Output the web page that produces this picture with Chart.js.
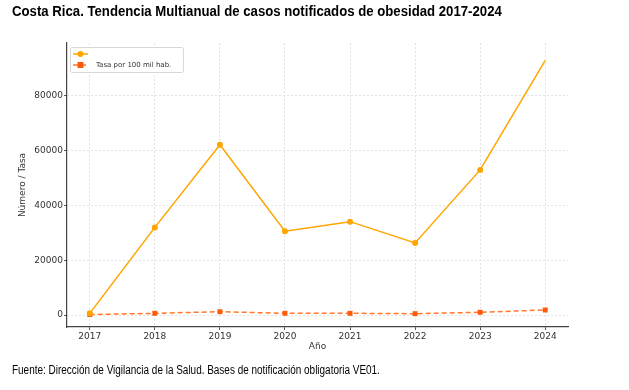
<!DOCTYPE html>
<html>
<head>
<meta charset="utf-8">
<script src="https://cdn.jsdelivr.net/npm/chart.js@4"></script>
<style>
  body { margin: 0; background: #fff; }
  #wrap { position: relative; width: 629px; height: 390px; overflow: hidden; }
  #chart { position: absolute; left: 0; top: 0; }
  .txt { position: absolute; left: 12px; white-space: nowrap; transform-origin: 0 0; color: #000;
         font-family: 'Liberation Sans', Arial, sans-serif; }
  #title { top: 3px; font-size: 14.5px; font-weight: 700; }
  #source { top: 363px; font-size: 12.5px; }
</style>
</head>
<body>
<div id="wrap">
  <canvas id="chart" width="629" height="390"></canvas>
  <div id="title" class="txt" data-w="490">Costa Rica. Tendencia Multianual de casos notificados de obesidad 2017-2024</div>
  <div id="source" class="txt" data-w="368">Fuente: Dirección de Vigilancia de la Salud. Bases de notificación obligatoria VE01.</div>
</div>
<script>
const years = [2017, 2018, 2019, 2020, 2021, 2022, 2023, 2024];
const casos = [600, 32000, 62200, 30600, 34100, 26300, 53000, 93000];
const tasa = [150, 620, 1200, 620, 620, 480, 990, 1830];
const yTicks = [0, 20000, 40000, 60000, 80000];

const casosLabel = '';
const tasaLabel = 'Tasa por 100 mil hab.';

// squeeze the texts to the reference width
document.querySelectorAll('.txt').forEach(el => {
  const w = el.scrollWidth;
  el.style.transform = 'scaleX(' + (el.dataset.w / w) + ')';
});

// legend drawn inside the plot, upper left
const innerLegend = {
  id: 'innerLegend',
  afterDatasetsDraw(chart) {
    const { ctx, chartArea } = chart;
    const x = chartArea.left + 3, y = chartArea.top + 4;
    ctx.save();
    ctx.fillStyle = 'rgba(255,255,255,0.85)';
    ctx.strokeStyle = '#d8d8d8';
    ctx.lineWidth = 1;
    ctx.beginPath();
    ctx.roundRect(x + 0.5, y + 0.5, 113, 25, 2);
    ctx.fill();
    ctx.stroke();
    chart.data.datasets.forEach((ds, i) => {
      const cy = y + 7 + i * 11;
      ctx.strokeStyle = ds.borderColor;
      ctx.lineWidth = 1.5;
      ctx.setLineDash(ds.borderDash || []);
      ctx.beginPath();
      ctx.moveTo(x + 3, cy);
      ctx.lineTo(x + 18, cy);
      ctx.stroke();
      ctx.setLineDash([]);
      ctx.fillStyle = ds.pointBackgroundColor;
      if (ds.pointStyle === 'rect') ctx.fillRect(x + 7.5, cy - 3, 6, 6);
      else { ctx.beginPath(); ctx.arc(x + 10.5, cy, 3, 0, Math.PI * 2); ctx.fill(); }
      ctx.fillStyle = '#333';
      ctx.font = '7px "DejaVu Sans"';
      ctx.textBaseline = 'middle';
      ctx.fillText(ds.label, x + 26, cy + 0.5);
    });
    ctx.restore();
  }
};

const tickFont = { family: 'DejaVu Sans', size: 9 };

new Chart(document.getElementById('chart'), {
  type: 'line',
  data: {
    datasets: [
      {
        label: casosLabel,
        data: years.map((yr, i) => ({ x: yr, y: casos[i] })),
        borderColor: '#ffa500',
        backgroundColor: '#ffa500',
        pointBackgroundColor: '#ffa500',
        pointBorderWidth: 0,
        pointRadius: years.map((yr, i) => (i === years.length - 1 ? 0 : 3)),
        borderWidth: 1.5,
        tension: 0
      },
      {
        label: tasaLabel,
        data: years.map((yr, i) => ({ x: yr, y: tasa[i] })),
        borderColor: '#ff7a30',
        backgroundColor: '#ff5a0a',
        pointBackgroundColor: '#ff5a0a',
        pointStyle: 'rect',
        pointBorderWidth: 0,
        pointRadius: 3.5,
        borderWidth: 1.5,
        borderDash: [5, 3],
        tension: 0
      }
    ]
  },
  options: {
    responsive: false,
    animation: false,
    layout: { padding: { left: 12, right: 61, top: 43, bottom: 35 } },
    plugins: { legend: { display: false }, tooltip: { enabled: false } },
    scales: {
      x: {
        type: 'linear',
        min: 2016.65,
        max: 2024.35,
        afterBuildTicks: s => { s.ticks = years.map(v => ({ value: v })); },
        afterFit: s => { s.height = 28; },
        ticks: { font: tickFont, color: '#333', padding: 1, callback: v => String(v), maxRotation: 0 },
        grid: { color: '#e2e2e2', tickColor: '#555', tickLength: 3 },
        border: { color: '#444', width: 1.2, dash: [2, 2] },
        title: { display: true, text: 'Año', font: tickFont, color: '#333', padding: { top: 0, bottom: 3 } }
      },
      y: {
        min: -4383,
        max: 99360,
        afterBuildTicks: s => { s.ticks = yTicks.map(v => ({ value: v })); },
        afterFit: s => { s.width = 55; },
        ticks: { font: tickFont, color: '#333', padding: 1, callback: v => String(v) },
        grid: { color: '#e2e2e2', tickColor: '#555', tickLength: 3 },
        border: { color: '#444', width: 1.2, dash: [2, 2] },
        title: { display: true, text: 'Número / Tasa', font: tickFont, color: '#333', padding: { top: 5, bottom: 0 } }
      }
    }
  },
  plugins: [innerLegend]
});
</script>
</body>
</html>
